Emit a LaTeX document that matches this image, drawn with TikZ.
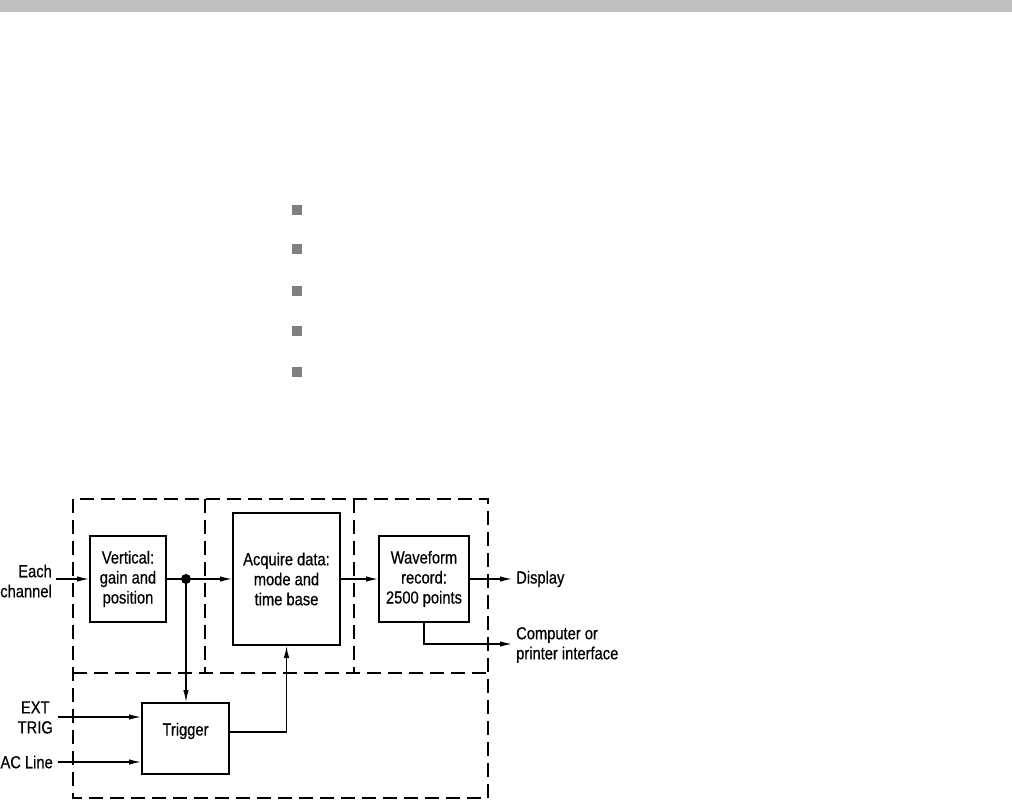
\documentclass[tikz,border=0pt]{standalone}
\usepackage{fontspec}
\setmainfont{Liberation Sans}
\newfontfamily\diafont[FakeStretch=0.84,FakeBold=0.5]{Liberation Sans}
\usetikzlibrary{arrows.meta}
\tikzset{
  dia/.style={font=\diafont\fontsize{17.5}{20}\selectfont},
  blk/.style={draw, line width=2pt, inner sep=0pt, align=center, dia},
  grp/.style={line width=1.3pt, dash pattern=on 14pt off 7pt},
  sig/.style={line width=1.3pt, -{Latex[length=12pt,width=5.5pt]}},
  lbl/.style={dia, inner sep=0pt},
  bul/.style={fill=black!50, draw=none, minimum size=10pt, inner sep=0pt}
}
\begin{document}
\begin{tikzpicture}[x=1pt,y=-1pt]
\useasboundingbox (0,0) rectangle (1012,800);
% top bar
\fill[black!25] (0,0) rectangle (1012,12);
% bullets
\foreach \yy [count=\i] in {209.5,249,291,330.5,372}
  \node[bul] (b\i) at (297,\yy) {};
% dashed groups
\draw[grp] (73,499) rectangle (488,798);
\draw[grp] (73,673) -- (488,673);
\draw[grp] (205,499) -- (205,673);
\draw[grp] (354,499) -- (354,673);
% blocks
\node[blk, minimum width=76pt, minimum height=86pt] (vert) at (128,579) {Vertical:\\gain and\\position};
\node[blk, minimum width=107pt, minimum height=132pt] (acq) at (286.5,579) {Acquire data:\\mode and\\time base};
\node[blk, minimum width=90pt, minimum height=86pt] (wave) at (424,579) {Waveform\\record:\\2500 points};
\node[draw, line width=2pt, minimum width=87pt, minimum height=71pt, inner sep=0pt] (trig) at (185.5,738.5) {};
\node[lbl] (trigtxt) at (185.5,731) {Trigger};
% labels
\node[lbl, align=right, anchor=east] (each) at (52,581) {Each\\channel};
\node[lbl, align=center, anchor=east] (ext) at (53,717.5) {EXT\\TRIG};
\node[lbl, anchor=east] (acl) at (53,762) {AC Line};
\node[lbl, anchor=west] (disp) at (516,579) {Display};
\node[lbl, align=left, anchor=west] (comp) at (516,645) {Computer or\\printer interface};
% coordinates
\coordinate (ec) at (56,579);
\coordinate (dot) at (186,579);
\coordinate (exs) at (58,717);
\coordinate (acs) at (58,762);
\coordinate (dispin) at (512,579);
\coordinate (compin) at (512,644);
% connectors
\draw[sig] (ec) -- (vert.west);
\draw[sig] (vert.east) -- (acq.west);
\fill (dot) circle (5pt);
\draw[sig] (dot) -- (dot |- trig.north);
\draw[sig] (acq.east) -- (wave.west);
\draw[sig] (wave.east) -- (dispin);
\draw[sig] (wave.south) |- (compin);
\draw[sig] (exs) -- (exs -| trig.west);
\draw[sig] (acs) -- (acs -| trig.west);
\draw[sig] (trig.east |- 0,732) -| (acq.south);
\end{tikzpicture}
\end{document}
